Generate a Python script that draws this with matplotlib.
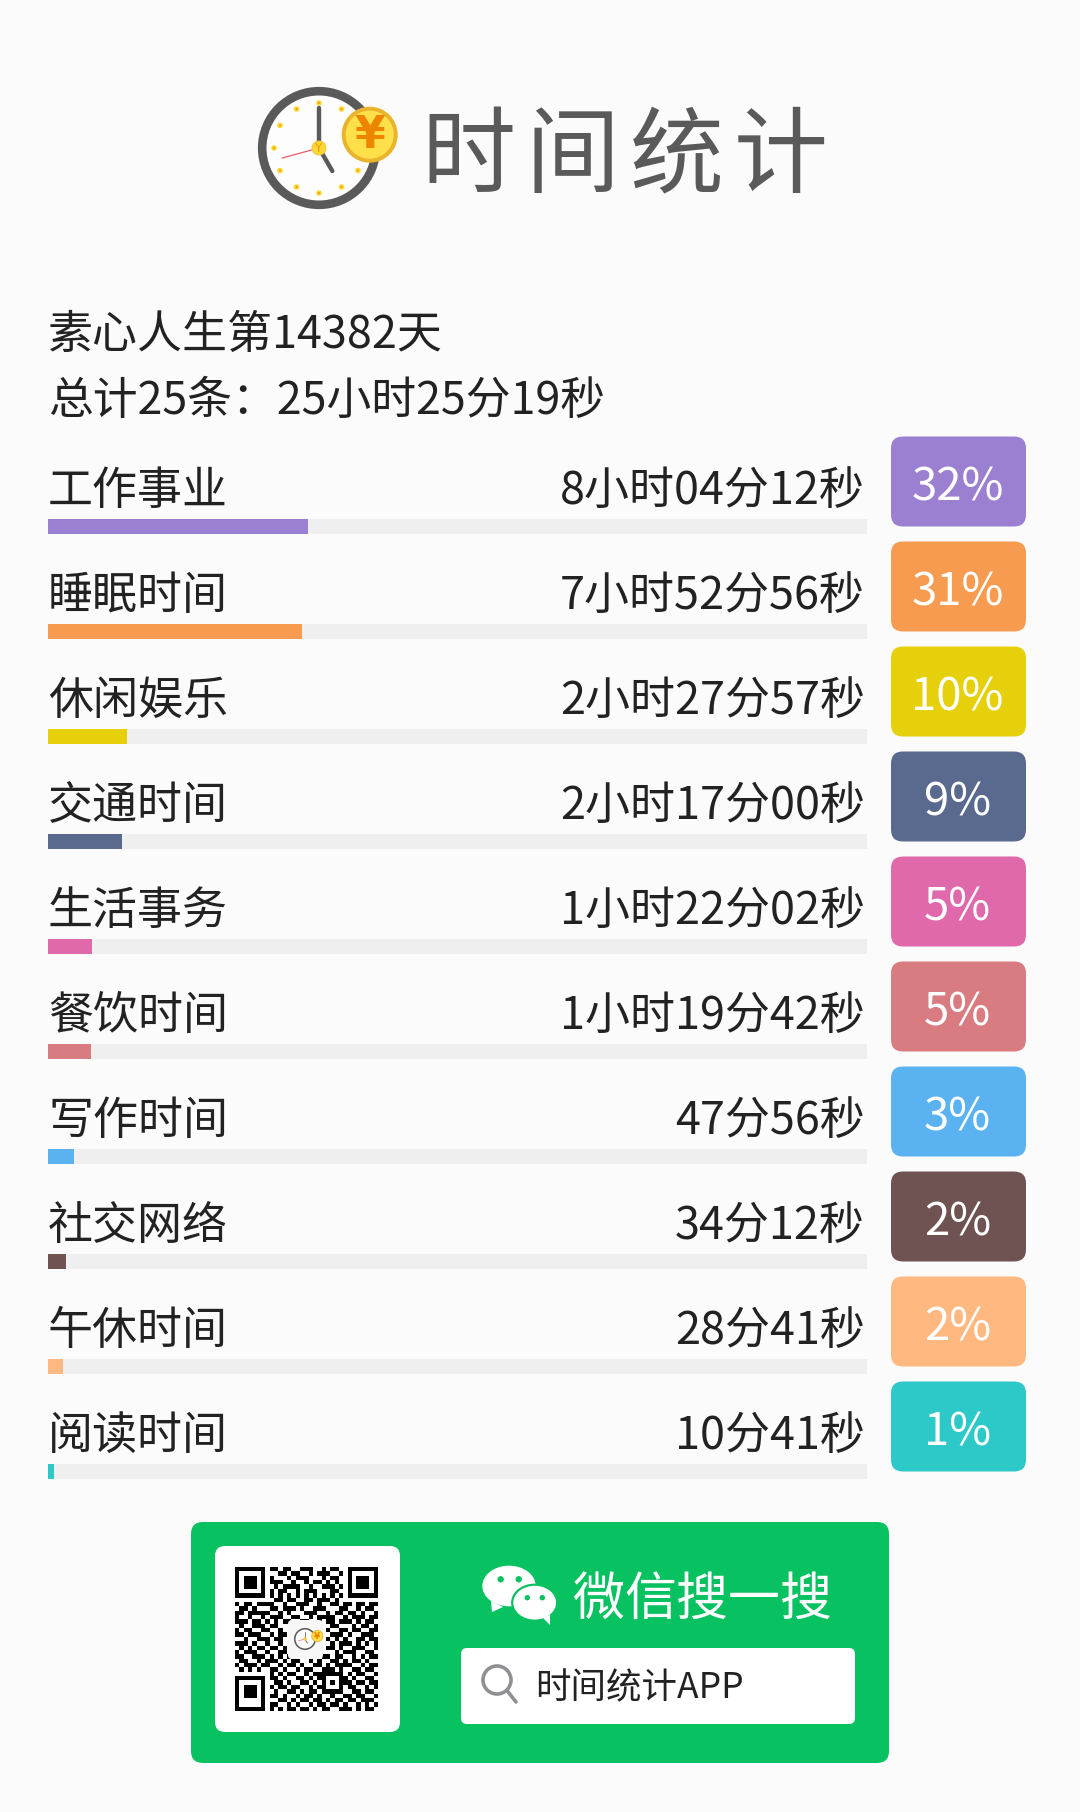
import numpy as np
import matplotlib
matplotlib.use('Agg')
import matplotlib.pyplot as plt
from matplotlib.patches import FancyBboxPatch, Circle, Ellipse, Polygon

plt.rcParams['font.family'] = ['Noto Sans CJK SC', 'DejaVu Sans']

categories = ['工作事业', '睡眠时间', '休闲娱乐', '交通时间', '生活事务',
              '餐饮时间', '写作时间', '社交网络', '午休时间', '阅读时间']
duration_labels = ['8小时04分12秒', '7小时52分56秒', '2小时27分57秒', '2小时17分00秒', '1小时22分02秒',
                   '1小时19分42秒', '47分56秒', '34分12秒', '28分41秒', '10分41秒']
seconds = [29052, 28376, 8877, 8220, 4922, 4782, 2876, 2052, 1721, 641]
percent_labels = ['32%', '31%', '10%', '9%', '5%', '5%', '3%', '2%', '2%', '1%']
colors = ['#9b7fd0', '#f69b50', '#e5d00b', '#5a6a8e', '#df69ab',
          '#d97c82', '#5ab2f0', '#6f5353', '#ffb87f', '#2dc8c8']
total_seconds = 91519
header_lines = ['素心人生第14382天', '总计25条：25小时25分19秒']
title_chars = '时间统计'
search_chars = '微信搜一搜'
search_box_text = '时间统计APP'
qr_rows = [
    '111111101101100111001011001111111',
    '100000100011011001011100101000001',
    '101110101000101110001011001011101',
    '101110101110010010110101001011101',
    '101110100101111001001110101011101',
    '100000101011001011100011001000001',
    '111111101010101010101010101111111',
    '000000000110110011011101000000000',
    '101101111001001110010011011011011',
    '011010001101110100111000110010110',
    '110111110010100011100101101101001',
    '100100101110011001011110010111011',
    '111011010101100110010110111010110',
    '010011101100000000000011000101101',
    '101100110010000000000100110110011',
    '110111001011000000000011101001110',
    '001001110110000000000101010011011',
    '111010010010000000000010111010101',
    '010101101101000000000110100111001',
    '101110010011000000000001011100110',
    '110011101010100110101101100101011',
    '011001011101011001010011010110100',
    '101110110010110100110101111001011',
    '010101001101001011001110100110110',
    '000000001010110010111111101011001',
    '111111101101001101011000110100110',
    '100000100110100110101010111011011',
    '101110101011011001011000101100101',
    '101110100100110101101111100110110',
    '101110101101001011010010011011001',
    '100000100011010110110101101101110',
    '100000101100101001011011010010101',
    '111111101010110110101100111010110',
]

W, H = 1080, 1812
BG = '#fbfbfb'
fig = plt.figure(figsize=(W / 100, H / 100), dpi=100, facecolor=BG)
ax = fig.add_axes([0, 0, 1, 1])
ax.set_xlim(0, W)
ax.set_ylim(H, 0)
ax.axis('off')


def fs(px):
    return px * 0.72


def rbox(x0, y0, x1, y1, r, color, zorder=2, **kw):
    p = FancyBboxPatch((x0, y0), x1 - x0, y1 - y0,
                       boxstyle=f'round,pad=0,rounding_size={r}',
                       fc=color, ec='none', zorder=zorder, **kw)
    ax.add_patch(p)
    return p


def mini_clock(cx, cy, R, coin_xy, coin_r, detailed=True):
    k = R / 61
    ax.add_patch(Circle((cx, cy), R - 4.2 * k, fc='#fdfdfd', ec='#5a5a5a', lw=8.6 * k * 0.72, zorder=3))
    if detailed:
        for h in range(12):
            a = np.deg2rad(h * 30)
            if h in (2, 3):
                continue
            px_, py_ = cx + 45 * np.sin(a), cy - 45 * np.cos(a)
            ax.add_patch(Circle((px_, py_), 2.8, fc='#fdd835', ec='none', zorder=4))
            ax.add_patch(Circle((px_, py_), 1.0, fc='#ee9a10', ec='none', zorder=4.1))
    ax.plot([cx, cx], [cy, cy - 40 * k], color='#5a5a5a', lw=4.4 * k * 0.72, solid_capstyle='round', zorder=5)
    ax.plot([cx, cx + 13.3 * k], [cy, cy + 23 * k], color='#5a5a5a', lw=4.4 * k * 0.72, solid_capstyle='round', zorder=5)
    ax.plot([cx, cx - 36.7 * k], [cy, cy + 10 * k], color='#f4606c', lw=max(1.3 * k, 0.6) * 0.72, zorder=5)
    ax.add_patch(Circle((cx, cy), 7 * k, fc='#fdd835', ec='#f1c232', lw=0.6, zorder=6))
    ax.add_patch(Circle(coin_xy, coin_r, fc='#e9b42c', ec='none', zorder=7))
    ax.add_patch(Circle(coin_xy, coin_r * 0.86, fc='#ffdf4a', ec='none', zorder=7.1))
    if detailed:
        ax.text(cx, cy + 0.5, 'Y', fontsize=fs(12), color='#ee9a10', ha='center', va='center', zorder=6.5, family='DejaVu Sans')
        ax.text(coin_xy[0], coin_xy[1] + 0.5, '¥', fontsize=fs(44), color='#ee8500', fontweight='bold',
                ha='center', va='center', zorder=8, family='DejaVu Sans')
    else:
        ax.text(coin_xy[0], coin_xy[1] + 0.3, '¥', fontsize=fs(9), color='#ee8500', fontweight='bold',
                ha='center', va='center', zorder=8, family='DejaVu Sans')


# Title
mini_clock(319, 148, 61, (369.7, 134.7), 28)
for i, ch in enumerate(title_chars):
    ax.text(468.5 + i * 104, 185, ch, fontsize=fs(94), color='#5a5a5a', ha='center', va='baseline', fontweight='light')

# Header
ax.text(48, 348, header_lines[0], fontsize=fs(45), color='#222222', ha='left', va='baseline', fontweight='light')
ax.text(48, 414, header_lines[1], fontsize=fs(44.8), color='#222222', ha='left', va='baseline', fontweight='light')

# Bars: one axes through the data scale
ROW0, PITCH, BAR_H = 526.5, 105, 15
n = len(categories)
top = ROW0 - PITCH / 2
bar_ax = fig.add_axes([48 / W, 1 - (top + n * PITCH) / H, (867 - 48) / W, n * PITCH / H])
bar_ax.patch.set_alpha(0)
bar_ax.set_xlim(0, total_seconds)
bar_ax.set_ylim(n - 0.5, -0.5)
bar_ax.axis('off')
ypos = np.arange(n)
bar_ax.barh(ypos, [total_seconds] * n, height=BAR_H / PITCH, color='#efefef', linewidth=0)
bar_ax.barh(ypos, seconds, height=BAR_H / PITCH, color=colors, linewidth=0)

# Row texts and badges
for i in range(n):
    ax.text(48, 504 + i * PITCH, categories[i], fontsize=fs(45), color='#222222', ha='left', va='baseline', fontweight='light')
    ax.text(865, 504 + i * PITCH, duration_labels[i], fontsize=fs(45), color='#222222', ha='right', va='baseline', fontweight='light')
    rbox(891, 436.5 + i * PITCH, 1026, 526.5 + i * PITCH, 12, colors[i])
    ax.text(957.5, 500.5 + i * PITCH, percent_labels[i], fontsize=fs(45.5), color='white', ha='center', va='baseline', zorder=3, fontweight='light')

# WeChat panel
rbox(191, 1522, 889, 1763, 12, '#08c160')
rbox(215, 1546, 400, 1732, 10, 'white', zorder=2.2)
qr = np.array([[int(c) for c in row] for row in qr_rows])
ax.imshow(1 - qr, cmap='gray', vmin=0, vmax=1, extent=(235, 378, 1711, 1567), interpolation='nearest', zorder=2.5, aspect='auto')
ax.set_xlim(0, W)
ax.set_ylim(H, 0)
rbox(288, 1620, 323, 1659, 4, '#f7f7f7', zorder=2.6)
mini_clock(305, 1639, 11, (317.3, 1636), 6, detailed=False)

# WeChat logo
ax.add_patch(Ellipse((509, 1586), 53.4, 40.6, fc='white', ec='none', zorder=3))
ax.add_patch(Polygon([(491, 1601), (492, 1612), (503, 1607)], fc='white', ec='none', zorder=3))
ax.add_patch(Ellipse((534.7, 1602.7), 45, 36, fc='white', ec='#08c160', lw=1.6, zorder=3.2))
ax.add_patch(Polygon([(543, 1618), (550, 1625), (550, 1615)], fc='white', ec='none', zorder=3.3))
for ex, ey, er in [(500.7, 1579.3, 3.2), (518.7, 1579.3, 3.2), (527.3, 1597.7, 2.7), (542.3, 1597.7, 2.7)]:
    ax.add_patch(Circle((ex, ey), er, fc='#08c160', ec='none', zorder=3.5))

for i, ch in enumerate(search_chars):
    ax.text(598 + i * 52, 1615, ch, fontsize=fs(52), color='white', ha='center', va='baseline', zorder=3, fontweight='light')

# Search box
rbox(461, 1648, 855, 1724, 6, 'white', zorder=3)
ax.add_patch(Circle((497, 1680), 14, fc='none', ec='#8f8f94', lw=3.6 * 0.72, zorder=4))
ax.plot([507, 516], [1690.5, 1702], color='#8f8f94', lw=3.6 * 0.72, zorder=4, solid_capstyle='round')
ax.text(535, 1698, search_box_text, fontsize=fs(35.5), color='#222222', ha='left', va='baseline', zorder=4)

fig.savefig('out.png', dpi=100, facecolor=BG)
